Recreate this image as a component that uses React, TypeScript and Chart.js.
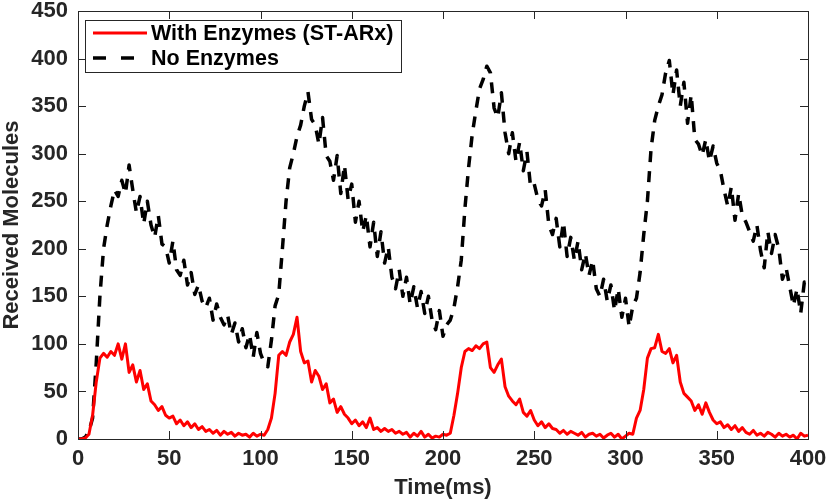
import React, { useEffect, useRef } from "react";
import { Chart, registerables } from "chart.js";

Chart.register(...registerables);

const TIME_STEP_MS = 2;

const WITH_ENZYMES = [
  0, 0, 1, 5, 25, 60, 85, 90, 86, 92, 88,
  100, 84, 100, 70, 78, 60, 72, 52, 58, 40,
  36, 30, 34, 25, 22, 24, 16, 20, 14, 18,
  12, 16, 10, 13, 8, 10, 6, 9, 4, 8,
  5, 7, 3, 6, 4, 5, 2, 6, 3, 5,
  4, 10, 22, 48, 88, 92, 88, 102, 110, 128,
  92, 80, 82, 60, 72, 66, 52, 58, 38, 42,
  28, 34, 26, 22, 16, 20, 14, 18, 12, 22,
  10, 12, 8, 11, 8, 10, 6, 8, 5, 7,
  2, 6, 3, 8, 2, 5, 1, 3, 2, 5,
  4, 6, 25, 48, 75, 92, 95, 93, 98, 95,
  100, 102, 75, 70, 78, 84, 55, 45, 40, 36,
  42, 28, 24, 30, 20, 14, 18, 12, 16, 11,
  10, 6, 9, 5, 8, 6, 4, 7, 2, 5,
  6, 3, 5, 1, 4, 6, 2, 5, 0, 3,
  6, 5, 22, 30, 52, 85, 95, 96, 110, 92,
  90, 95, 80, 88, 60, 48, 44, 40, 30, 36,
  26, 38, 28, 20, 16, 18, 12, 15, 10, 14,
  8, 12, 7, 5, 9, 4, 6, 3, 7, 5,
  2, 6, 3, 5, 2, 4, 0, 6, 3, 4,
];

const NO_ENZYMES = [
  0, 0, 2, 8, 22, 80, 150, 200, 225, 245, 262,
  255, 272, 258, 288, 262, 238, 255, 226, 250, 225,
  212, 235, 205, 202, 185, 208, 178, 172, 188, 162,
  175, 152, 162, 145, 138, 148, 125, 142, 128, 120,
  130, 110, 122, 102, 116, 96, 110, 86, 112, 90,
  80, 76, 104, 140, 152, 200, 250, 285, 300, 318,
  330, 350, 365, 336, 330, 310, 338, 298, 292, 272,
  298, 258, 288, 252, 268, 228, 250, 218, 235, 202,
  228, 192, 218, 185, 202, 170, 158, 178, 150, 170,
  142, 160, 138, 155, 132, 150, 125, 115, 135, 108,
  120, 125, 138, 160, 188, 242, 285, 320, 345, 368,
  378, 392, 385, 348, 338, 364, 322, 300, 322, 292,
  312, 282, 302, 265, 268, 252, 245, 262, 225, 215,
  232, 202, 228, 192, 212, 188, 208, 178, 195, 172,
  188, 158, 150, 168, 145, 162, 135, 158, 128, 148,
  118, 140, 148, 175, 215, 250, 305, 335, 350, 362,
  385, 398, 362, 388, 350, 375, 332, 362, 315, 310,
  298, 315, 292, 308, 290, 282, 262, 245, 265, 230,
  258, 235, 228, 218, 208, 225, 198, 180, 218, 195,
  215, 200, 168, 180, 160, 140, 158, 132, 165, 160,
];

const X_TICKS = [0, 50, 100, 150, 200, 250, 300, 350, 400];
const Y_TICKS = [0, 50, 100, 150, 200, 250, 300, 350, 400, 450];

const LABEL_WITH = "With Enzymes (ST-ARx)";
const LABEL_NO = "No Enzymes";
const X_TITLE = "Time(ms)";
const Y_TITLE = "Received Molecules";

const INK = "#262626";
const FONT = "'Liberation Sans', Arial, Helvetica, sans-serif";

const framePlugin = {
  id: "matlabFrame",
  afterDatasetsDraw(chart: any) {
    const { ctx, chartArea, scales } = chart;
    const { left, right, top, bottom } = chartArea;
    const tick = 8;
    ctx.save();
    ctx.strokeStyle = INK;
    ctx.lineWidth = 1;
    ctx.beginPath();
    X_TICKS.forEach((v) => {
      const x = Math.round(scales.x.getPixelForValue(v)) + 0.5;
      ctx.moveTo(x, bottom);
      ctx.lineTo(x, bottom - tick);
      ctx.moveTo(x, top);
      ctx.lineTo(x, top + tick);
    });
    Y_TICKS.forEach((v) => {
      const y = Math.round(scales.y.getPixelForValue(v)) + 0.5;
      ctx.moveTo(left, y);
      ctx.lineTo(left + tick, y);
      ctx.moveTo(right, y);
      ctx.lineTo(right - tick, y);
    });
    ctx.stroke();
    ctx.strokeRect(Math.round(left) + 0.5, Math.round(top) + 0.5, Math.round(right - left), Math.round(bottom - top));
    ctx.restore();
  },
};

const legendPlugin = {
  id: "boxLegend",
  afterDraw(chart: any) {
    const { ctx, chartArea } = chart;
    const boxX = chartArea.left + 7;
    const boxY = chartArea.top + 9;
    const font = `bold 21.5px ${FONT}`;
    ctx.save();
    ctx.font = font;
    const sets = chart.data.datasets;
    const textX = boxX + 66;
    let maxW = 0;
    sets.forEach((d: any) => {
      maxW = Math.max(maxW, ctx.measureText(d.label).width);
    });
    const boxW = textX - boxX + maxW + 8;
    const boxH = 52;
    ctx.fillStyle = "#ffffff";
    ctx.fillRect(boxX, boxY, boxW, boxH);
    ctx.strokeStyle = INK;
    ctx.lineWidth = 1;
    ctx.strokeRect(Math.round(boxX) + 0.5, Math.round(boxY) + 0.5, Math.round(boxW), boxH);
    sets.forEach((d: any, i: number) => {
      const y = boxY + 13 + i * 25;
      ctx.beginPath();
      ctx.strokeStyle = d.borderColor;
      ctx.lineWidth = d.borderWidth;
      ctx.setLineDash(d.borderDash ? [13, 15] : []);
      ctx.moveTo(boxX + 8, y);
      ctx.lineTo(boxX + 62, y);
      ctx.stroke();
      ctx.setLineDash([]);
      ctx.fillStyle = "#000000";
      ctx.textBaseline = "middle";
      ctx.textAlign = "left";
      ctx.fillText(d.label, textX, y + 1);
    });
    ctx.restore();
  },
};

const zeroPadding = (scale: any) => {
  scale.paddingTop = 0;
  scale.paddingBottom = 0;
  scale.paddingLeft = 0;
  scale.paddingRight = 0;
};

export default function App() {
  const canvasRef = useRef<HTMLCanvasElement | null>(null);

  useEffect(() => {
    document.body.style.margin = "0";
    const canvas = canvasRef.current;
    if (!canvas) return;
    const toPoints = (arr: number[]) => arr.map((y, i) => ({ x: i * TIME_STEP_MS, y }));
    const chart = new Chart(canvas, {
      type: "line",
      data: {
        datasets: [
          {
            label: LABEL_WITH,
            data: toPoints(WITH_ENZYMES),
            borderColor: "#ff0000",
            borderWidth: 3,
            borderJoinStyle: "round",
            pointRadius: 0,
            tension: 0,
            fill: false,
            order: 0,
          },
          {
            label: LABEL_NO,
            data: toPoints(NO_ENZYMES),
            borderColor: "#000000",
            borderWidth: 3.5,
            borderDash: [11, 9],
            borderJoinStyle: "round",
            pointRadius: 0,
            tension: 0,
            fill: false,
            order: 1,
          },
        ],
      },
      options: {
        animation: false,
        responsive: false,
        devicePixelRatio: 1,
        layout: { padding: { top: 11, right: 22, left: 0, bottom: 0 } },
        plugins: {
          legend: { display: false },
          tooltip: { enabled: false },
        },
        scales: {
          x: {
            type: "linear",
            min: 0,
            max: 400,
            afterBuildTicks: (scale: any) => {
              scale.ticks = X_TICKS.map((v) => ({ value: v }));
            },
            afterFit: (scale: any) => {
              scale.height = 61;
              zeroPadding(scale);
            },
            ticks: {
              color: INK,
              padding: 9,
              maxRotation: 0,
              autoSkip: false,
              font: { family: FONT, size: 22, weight: "bold", lineHeight: 1 },
            },
            grid: { display: true, drawOnChartArea: false, drawTicks: false },
            border: { display: true, color: INK, width: 1 },
            title: {
              display: true,
              text: X_TITLE,
              color: INK,
              padding: { top: 0, bottom: 0 },
              font: { family: FONT, size: 22, weight: "bold", lineHeight: 1.1 },
            },
          },
          y: {
            type: "linear",
            min: 0,
            max: 450,
            afterBuildTicks: (scale: any) => {
              scale.ticks = Y_TICKS.map((v) => ({ value: v }));
            },
            afterFit: (scale: any) => {
              scale.width = 78;
              zeroPadding(scale);
            },
            ticks: {
              color: INK,
              padding: 10,
              autoSkip: false,
              font: { family: FONT, size: 22, weight: "bold", lineHeight: 1 },
            },
            grid: { display: true, drawOnChartArea: false, drawTicks: false },
            border: { display: true, color: INK, width: 1 },
            title: {
              display: true,
              text: Y_TITLE,
              color: INK,
              padding: { top: 0, bottom: 0 },
              font: { family: FONT, size: 22, weight: "bold", lineHeight: 1.1 },
            },
          },
        },
      },
      plugins: [framePlugin, legendPlugin],
    } as any);
    return () => chart.destroy();
  }, []);

  return (
    <div style={{ position: "absolute", left: 0, top: 0, width: 830, height: 500, background: "#fff" }}>
      <canvas ref={canvasRef} width={830} height={500} style={{ width: 830, height: 500 }} />
    </div>
  );
}
